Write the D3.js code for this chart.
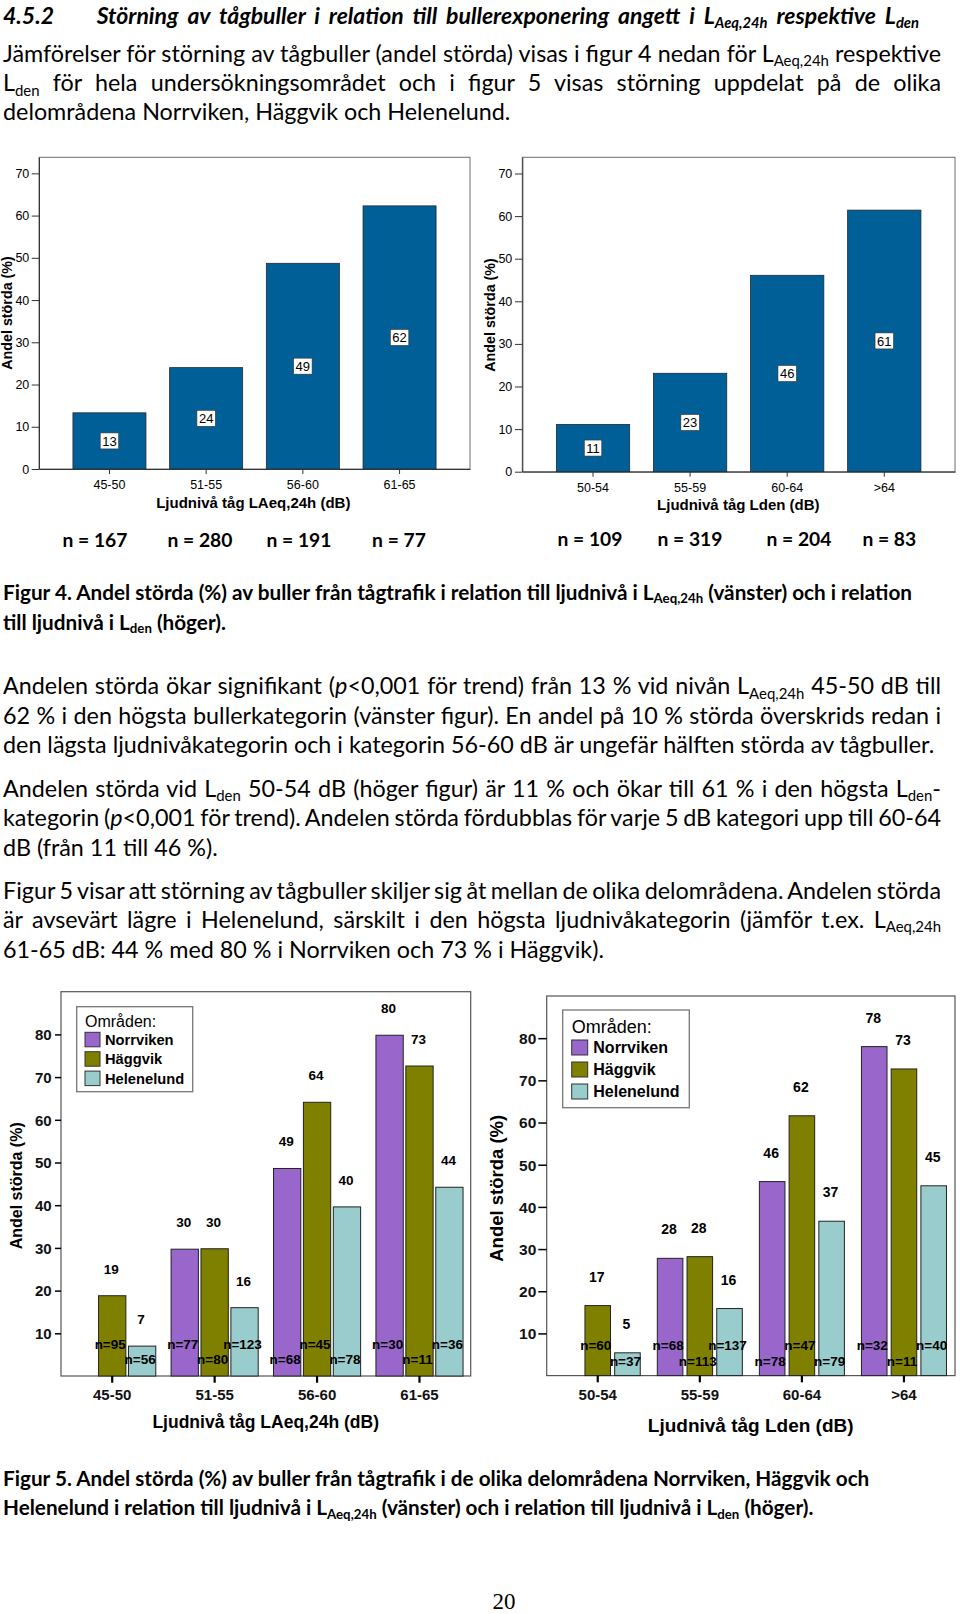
<!DOCTYPE html>
<html><head><meta charset="utf-8">
<script src="https://cdn.jsdelivr.net/npm/d3@7"></script>
<style>body{margin:0;background:#fff}svg{display:block}text{white-space:pre}</style>
</head><body><script>
// ---------------- DATA ----------------
const fig4aCategories = ["45-50","51-55","56-60","61-65"];
const fig4aValues = [13.3, 24.0, 48.7, 62.3];
const fig4aN = [167, 280, 191, 77];
const fig4bCategories = ["50-54","55-59","60-64",">64"];
const fig4bValues = [11.1, 23.1, 46.1, 61.4];
const fig4bN = [109, 319, 204, 83];
const fig4Ticks = [0,10,20,30,40,50,60,70];

const areas = ["Norrviken","Häggvik","Helenelund"];
const areaColors = ["#9966cc","#808000","#99cccc"];
const fig5aCategories = ["45-50","51-55","56-60","61-65"];
const fig5aNorrviken  = [null, 29.7, 48.6, 79.8];
const fig5aHaggvik    = [18.8, 29.8, 64.1, 72.6];
const fig5aHelenelund = [7.0, 16.0, 39.6, 44.2];
const fig5aNNorrviken  = [null, 77, 68, 30];
const fig5aNHaggvik    = [95, 80, 45, 11];
const fig5aNHelenelund = [56, 123, 78, 36];
const fig5bCategories = ["50-54","55-59","60-64",">64"];
const fig5bNorrviken  = [null, 27.8, 46.0, 78.0];
const fig5bHaggvik    = [16.6, 28.2, 61.6, 72.7];
const fig5bHelenelund = [5.4, 15.9, 36.6, 45.0];
const fig5bNNorrviken  = [null, 68, 78, 32];
const fig5bNHaggvik    = [60, 113, 47, 11];
const fig5bNHelenelund = [37, 137, 79, 40];
const fig5Ticks = [10,20,30,40,50,60,70,80];

// ---------------- SETUP ----------------
const W = 960, H = 1614;
const svg = d3.select("body").append("svg").attr("width",W).attr("height",H);
const BODY = "Lato, 'Open Sans', sans-serif";
const ARIAL = "'Liberation Sans', Arial, sans-serif";
const BLUE = "#005f96";

function rich(parent, x, y, segs, o){
  const t = parent.append("text").attr("x",x).attr("y",y)
    .attr("font-family",o.family).attr("font-size",o.size)
    .attr("font-weight",o.weight||"normal").attr("font-style",o.style||"normal")
    .attr("fill","#000");
  let shifted = 0;
  segs.forEach(s=>{
    if(typeof s==="string") s={t:s};
    const sp = t.append("tspan").text(s.t);
    const want = s.sub ? o.size*0.18 : 0;
    if(want!==shifted){ sp.attr("dy", want-shifted); shifted=want; }
    if(s.sub) sp.attr("font-size", o.size*0.64);
    if(s.i) sp.attr("font-style","italic");
  });
  if(o.anchor) t.attr("text-anchor",o.anchor);
  if(o.justify){
    const w = t.node().getComputedTextLength();
    const full = segs.map(s=>typeof s==="string"?s:s.t).join("");
    const n = (full.match(/ /g)||[]).length;
    if(n) t.attr("word-spacing", (o.justify - x - w)/n);
  }
  return t;
}
function fitSize(segs, o, target){
  const t = rich(svg, 0, -200, segs, Object.assign({}, o, {size:20, justify:null, anchor:null}));
  const w = t.node().getComputedTextLength(); t.remove();
  return 20*target/w;
}

// ---------------- TEXT ----------------
const regSize = fitSize(["den lägsta ljudnivåkategorin och i kategorin 56-60 dB är ungefär hälften störda av tågbuller."],{family:BODY},932);
const boldSize = fitSize(["Figur 5. Andel störda (%) av buller från tågtrafik i de olika delområdena Norrviken, Häggvik och"],{family:BODY,weight:"bold"},867);
const headSegs = ["Störning av tågbuller i relation till bullerexponering angett i L",{t:"Aeq,24h",sub:1}," respektive L",{t:"den",sub:1}];
const headSize = Math.min(23, fitSize(headSegs,{family:BODY,weight:"bold",style:"italic"},822));
const headBase = Math.ceil(headSize*1.0) + 1;

const R = {family:BODY, size:regSize};
const RJ = {family:BODY, size:regSize, justify:941};
const B = {family:BODY, size:boldSize, weight:"bold"};
const HD = {family:BODY, size:headSize, weight:"bold", style:"italic"};

rich(svg, 3, headBase, ["4.5.2"], HD);
rich(svg, 96.7, headBase, headSegs, Object.assign({}, HD, {justify:919}));

rich(svg, 3, 61.5, ["Jämförelser för störning av tågbuller (andel störda) visas i figur 4 nedan för L",{t:"Aeq,24h",sub:1}," respektive"], RJ);
rich(svg, 3, 91.3, ["L",{t:"den",sub:1}," för hela undersökningsområdet och i figur 5 visas störning uppdelat på de olika"], RJ);
rich(svg, 3, 120.2, ["delområdena Norrviken, Häggvik och Helenelund."], R);

rich(svg, 3, 599.6, ["Figur 4. Andel störda (%) av buller från tågtrafik i relation till ljudnivå i L",{t:"Aeq,24h",sub:1}," (vänster) och i relation"], B);
rich(svg, 3, 629.5, ["till ljudnivå i L",{t:"den",sub:1}," (höger)."], B);

rich(svg, 3, 694.3, ["Andelen störda ökar signifikant (",{t:"p",i:1},"<0,001 för trend) från 13 % vid nivån L",{t:"Aeq,24h",sub:1}," 45-50 dB till"], RJ);
rich(svg, 3, 724.1, ["62 % i den högsta bullerkategorin (vänster figur). En andel på 10 % störda överskrids redan i"], RJ);
rich(svg, 3, 753.0, ["den lägsta ljudnivåkategorin och i kategorin 56-60 dB är ungefär hälften störda av tågbuller."], R);

rich(svg, 3, 797.2, ["Andelen störda vid L",{t:"den",sub:1}," 50-54 dB (höger figur) är 11 % och ökar till 61 % i den högsta L",{t:"den",sub:1},"-"], RJ);
rich(svg, 3, 826.0, ["kategorin (",{t:"p",i:1},"<0,001 för trend). Andelen störda fördubblas för varje 5 dB kategori upp till 60-64"], RJ);
rich(svg, 3, 855.8, ["dB (från 11 till 46 %)."], R);

rich(svg, 3, 899.0, ["Figur 5 visar att störning av tågbuller skiljer sig åt mellan de olika delområdena. Andelen störda"], RJ);
rich(svg, 3, 928.0, ["är avsevärt lägre i Helenelund, särskilt i den högsta ljudnivåkategorin (jämför t.ex. L",{t:"Aeq,24h",sub:1}], RJ);
rich(svg, 3, 957.7, ["61-65 dB: 44 % med 80 % i Norrviken och 73 % i Häggvik)."], R);

rich(svg, 3, 1485.5, ["Figur 5. Andel störda (%) av buller från tågtrafik i de olika delområdena Norrviken, Häggvik och"], B);
rich(svg, 3, 1515.3, ["Helenelund i relation till ljudnivå i L",{t:"Aeq,24h",sub:1}," (vänster) och i relation till ljudnivå i L",{t:"den",sub:1}," (höger)."], B);

svg.append("text").attr("x",504).attr("y",1609).attr("text-anchor","middle")
  .attr("font-family","'Liberation Serif', 'Times New Roman', serif").attr("font-size",23).text("20");

// ---------------- FIGURE 4 ----------------
function simpleBar(c){
  const g = svg.append("g");
  const x = d3.scaleBand().domain(c.cats).range([c.left,c.right]).paddingInner(0.245).paddingOuter(0.351);
  const y = d3.scaleLinear().domain([0,73.8]).range([c.bottom,c.top]);
  g.append("rect").attr("x",c.left).attr("y",c.top).attr("width",c.right-c.left).attr("height",c.bottom-c.top)
    .attr("fill","#fff").attr("stroke","#6e6e6e").attr("stroke-width",1);
  g.selectAll("rect.bar").data(c.vals).join("rect").attr("class","bar")
    .attr("x",(d,i)=>x(c.cats[i])).attr("y",d=>y(d)).attr("width",x.bandwidth()).attr("height",d=>c.bottom-y(d))
    .attr("fill",BLUE).attr("stroke","#1e2a33").attr("stroke-width",0.8);
  // value boxes
  c.vals.forEach((v,i)=>{
    const cx = x(c.cats[i]) + x.bandwidth()/2, cy = y(v/2);
    const r = g.append("rect");
    const t = g.append("text").attr("x",cx).attr("y",cy+4.6).attr("text-anchor","middle")
      .attr("font-family",ARIAL).attr("font-size",13).attr("fill","#000").text(d3.format("d")(Math.round(v)));
    const bb = t.node().getBBox();
    r.attr("x",bb.x-2).attr("y",cy-8).attr("width",bb.width+4).attr("height",16)
      .attr("fill","#fff").attr("stroke","#333").attr("stroke-width",0.6);
  });
  // y axis
  const ya = g.append("g").attr("transform",`translate(${c.left},0)`)
    .call(d3.axisLeft(y).tickValues(fig4Ticks).tickSize(7.3).tickPadding(c.ypad).tickSizeOuter(0).tickFormat(d3.format("d")));
  ya.select(".domain").attr("stroke","#333");
  ya.selectAll(".tick line").attr("stroke","#333");
  ya.selectAll("text").attr("font-family",ARIAL).attr("font-size",12.5).attr("fill","#000");
  ya.attr("font-family",null);
  // x axis
  const xa = g.append("g").attr("transform",`translate(0,${c.bottom})`)
    .call(d3.axisBottom(x).tickSize(5).tickSizeOuter(0));
  xa.select(".domain").attr("stroke","#333");
  xa.selectAll(".tick line").attr("stroke","#333");
  xa.selectAll("text").attr("font-family",ARIAL).attr("font-size",12.5).attr("fill","#000")
    .attr("y", c.xtickBase - c.bottom).attr("dy",null);
  // titles
  g.append("text").attr("transform",`translate(${c.ytX},${c.ytY}) rotate(-90)`).attr("text-anchor","middle")
    .attr("font-family",ARIAL).attr("font-weight","bold").attr("font-size",14.3).text("Andel störda (%)");
  g.append("text").attr("x",c.xtX).attr("y",c.xtBase).attr("text-anchor","middle")
    .attr("font-family",ARIAL).attr("font-weight","bold").attr("font-size",15).text(c.xtitle);
  // n labels
  c.ns.forEach((n,i)=>{
    rich(svg, c.nX[i], c.nBase, ["n = "+n], {family:BODY, size:boldSize*0.93, weight:"bold", anchor:"middle"});
  });
}
simpleBar({cats:fig4aCategories, vals:fig4aValues, ns:fig4aN, left:39, right:470, top:157.3, bottom:469, ypad:2.4,
  xtickBase:488.8, ytX:11.9, ytY:313, xtX:253.3, xtBase:507.7, xtitle:"Ljudnivå tåg LAeq,24h (dB)",
  nX:[95,200,299,399], nBase:547});
simpleBar({cats:fig4bCategories, vals:fig4bValues, ns:fig4bN, left:522.3, right:955, top:157.3, bottom:471.7, ypad:2.7,
  xtickBase:491.8, ytX:494.5, ytY:315, xtX:738.3, xtBase:510.4, xtitle:"Ljudnivå tåg Lden (dB)",
  nX:[590,690,799,889.3], nBase:546});

// ---------------- FIGURE 5 ----------------
function groupedBar(c){
  const g = svg.append("g");
  const x0 = d3.scaleBand().domain(c.cats).range([c.left,c.right]).padding(0);
  const x1 = d3.scaleBand().domain(areas).range([0,x0.bandwidth()]).paddingInner(c.pi).paddingOuter(c.po);
  const y = d3.scaleLinear().domain([0,90]).range([c.bottom,c.top]);
  const color = d3.scaleOrdinal().domain(areas).range(areaColors);
  g.append("rect").attr("x",c.left).attr("y",c.top).attr("width",c.right-c.left).attr("height",c.bottom-c.top)
    .attr("fill","#fff").attr("stroke","#555").attr("stroke-width",1.2);
  const rows = [];
  c.cats.forEach((cat,ci)=>{
    areas.forEach((a,ai)=>{
      const v = c.series[ai][ci];
      if(v!==null) rows.push({cat, a, v, n:c.nseries[ai][ci]});
    });
  });
  g.selectAll("rect.bar").data(rows).join("rect").attr("class","bar")
    .attr("x",d=>x0(d.cat)+x1(d.a)).attr("y",d=>y(d.v)).attr("width",x1.bandwidth()).attr("height",d=>c.bottom-y(d.v))
    .attr("fill",d=>color(d.a)).attr("stroke","#222").attr("stroke-width",1);
  // value labels
  g.selectAll("text.val").data(rows).join("text").attr("class","val")
    .attr("x",d=>x0(d.cat)+x1(d.a)+x1.bandwidth()/2-1).attr("y",d=>y(d.v)-c.valOff)
    .attr("text-anchor","middle").attr("font-family",ARIAL).attr("font-weight","bold").attr("font-size",c.valSize)
    .attr("fill","#000").text(d=>d3.format("d")(Math.round(d.v)));
  // n labels (staggered)
  g.selectAll("text.n").data(rows).join("text").attr("class","n")
    .attr("x",d=>x0(d.cat)+x1(d.a)+x1.bandwidth()/2-2).attr("y",(d,i)=> i%2===0 ? c.bottom-c.nUp : c.bottom-c.nLow)
    .attr("text-anchor","middle").attr("font-family",ARIAL).attr("font-weight","bold").attr("font-size",13.5)
    .attr("fill","#000").text(d=>"n="+d.n);
  // y axis
  const ya = g.append("g").attr("transform",`translate(${c.left},0)`)
    .call(d3.axisLeft(y).tickValues(fig5Ticks).tickSize(c.ytick).tickPadding(c.ypad).tickSizeOuter(0).tickFormat(d3.format("d")));
  ya.select(".domain").remove();
  ya.selectAll(".tick line").attr("stroke","#000").attr("stroke-width",1.5);
  ya.selectAll("text").attr("font-family",ARIAL).attr("font-weight","bold").attr("font-size",c.ytSize).attr("fill","#111")
    .attr("dy","0.35em");
  // x axis
  const xa = g.append("g").attr("transform",`translate(0,${c.bottom})`)
    .call(d3.axisBottom(x0).tickSize(6.7).tickSizeOuter(0));
  xa.select(".domain").remove();
  xa.selectAll(".tick line").attr("stroke","#000").attr("stroke-width",2.2);
  xa.selectAll("text").attr("font-family",ARIAL).attr("font-weight","bold").attr("font-size",15).attr("fill","#111")
    .attr("y", c.xtickBase - c.bottom).attr("dy",null);
  // titles
  g.append("text").attr("transform",`translate(${c.ytX},${c.ytY}) rotate(-90)`).attr("text-anchor","middle")
    .attr("font-family",ARIAL).attr("font-weight","bold").attr("font-size",c.yTitleSize).text("Andel störda (%)");
  g.append("text").attr("x",c.xtX).attr("y",c.xtBase).attr("text-anchor","middle")
    .attr("font-family",ARIAL).attr("font-weight","bold").attr("font-size",c.xTitleSize).text(c.xtitle);
  // legend
  const L = c.leg;
  const lg = g.append("g");
  lg.append("rect").attr("x",L.x).attr("y",L.y).attr("width",L.w).attr("height",L.h)
    .attr("fill","#fff").attr("stroke","#777").attr("stroke-width",1.3);
  lg.append("text").attr("x",L.tx).attr("y",L.titleBase).attr("font-family",ARIAL).attr("font-size",L.titleSize)
    .attr("fill","#000").text("Områden:");
  areas.forEach((a,i)=>{
    const sy = L.sy + i*L.pitch;
    lg.append("rect").attr("x",L.tx).attr("y",sy).attr("width",L.sw).attr("height",L.sh)
      .attr("fill",color(a)).attr("stroke","#333").attr("stroke-width",1);
    lg.append("text").attr("x",L.ix).attr("y",sy+L.sh/2+L.itemSize*0.36).attr("font-family",ARIAL).attr("font-weight","bold")
      .attr("font-size",L.itemSize).attr("fill","#000").text(a);
  });
}
groupedBar({cats:fig5aCategories, series:[fig5aNorrviken,fig5aHaggvik,fig5aHelenelund],
  nseries:[fig5aNNorrviken,fig5aNHaggvik,fig5aNHelenelund],
  left:61, right:470.7, top:991.7, bottom:1376, pi:0.087, po:0.256,
  valOff:22, valSize:13.5, nUp:27, nLow:12, ytick:6, ypad:3.3, ytSize:15,
  xtickBase:1400.4, ytX:22.4, ytY:1185.8, yTitleSize:16, xtX:265.7, xtBase:1428, xTitleSize:17.5,
  xtitle:"Ljudnivå tåg LAeq,24h (dB)",
  leg:{x:76.7,y:1006.7,w:116,h:85,tx:85,titleBase:1027.3,titleSize:16,sy:1032.3,pitch:19.4,sw:15,sh:14.5,ix:105,itemSize:14.7}});
groupedBar({cats:fig5bCategories, series:[fig5bNorrviken,fig5bHaggvik,fig5bHelenelund],
  nseries:[fig5bNNorrviken,fig5bNHaggvik,fig5bNHelenelund],
  left:546.7, right:955, top:996, bottom:1375.6, pi:0.14, po:0.287,
  valOff:24, valSize:14, nUp:25.6, nLow:9.6, ytick:8.4, ypad:2, ytSize:15.5,
  xtickBase:1400.4, ytX:503.3, ytY:1188.3, yTitleSize:18.5, xtX:750.7, xtBase:1432, xTitleSize:19,
  xtitle:"Ljudnivå tåg Lden (dB)",
  leg:{x:562.7,y:1010,w:126.6,h:97.7,tx:571.7,titleBase:1032.7,titleSize:18,sy:1040,pitch:22,sw:16,sh:15,ix:593.3,itemSize:16}});
</script></body></html>
